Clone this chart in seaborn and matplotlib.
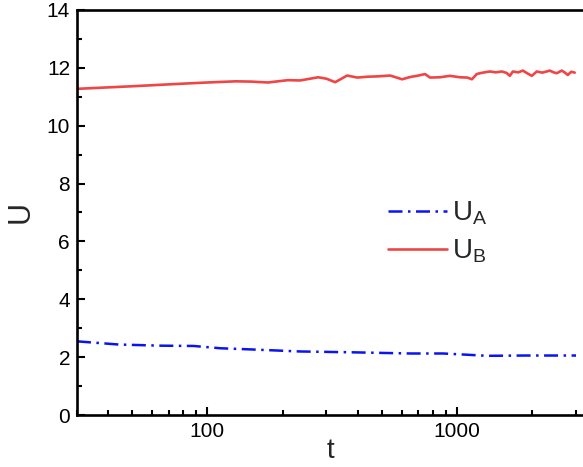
import numpy as np
import pandas as pd
import seaborn as sns
import matplotlib
matplotlib.use("Agg")
from matplotlib import pyplot as plt
from matplotlib.ticker import LogLocator, MultipleLocator, NullFormatter, FixedLocator, FixedFormatter

# data
t_a = [30, 44, 65, 88, 113, 150, 235, 385, 650, 880, 1030, 1320, 1900, 3000]
u_a = [2.55, 2.44, 2.40, 2.39, 2.31, 2.27, 2.20, 2.17, 2.13, 2.13, 2.10, 2.05, 2.06, 2.06]

t_b = [30, 50, 80, 100, 130, 150, 175, 210, 235, 278, 300, 325, 363, 398, 440,
       479, 540, 603, 650, 692, 745, 780, 855, 937, 1028, 1100, 1148, 1200, 1236,
       1290, 1355, 1430, 1514, 1580, 1629, 1675, 1760, 1837, 1920, 1995, 2089,
       2200, 2355, 2440, 2512, 2630, 2700, 2780, 2870, 2965]
u_b = [11.27, 11.36, 11.45, 11.49, 11.53, 11.52, 11.49, 11.57, 11.56, 11.67, 11.62,
       11.50, 11.73, 11.66, 11.69, 11.70, 11.73, 11.60, 11.68, 11.72, 11.78, 11.66,
       11.67, 11.72, 11.67, 11.66, 11.60, 11.78, 11.81, 11.84, 11.87, 11.84, 11.87,
       11.82, 11.72, 11.87, 11.84, 11.90, 11.80, 11.72, 11.87, 11.83, 11.90, 11.84,
       11.81, 11.90, 11.84, 11.75, 11.86, 11.83]

sns.set_theme(style="ticks")
plt.rcParams["font.family"] = ["Liberation Sans", "DejaVu Sans"]
plt.rcParams["mathtext.default"] = "regular"

fig = plt.figure(figsize=(5.83, 4.67), dpi=100)
ax = fig.add_axes([0.132, 0.111, 0.868, 0.868])

df_a = pd.DataFrame({"t": t_a, "U": u_a})
df_b = pd.DataFrame({"t": t_b, "U": u_b})

sns.lineplot(data=df_a, x="t", y="U", ax=ax, color="#0a14f0", lw=1.8,
             linestyle=(0, (5.6, 2.2, 1.0, 2.2)), label="$U_A$")
sns.lineplot(data=df_b, x="t", y="U", ax=ax, color="#f04545", lw=1.9,
             label="$U_B$")

ax.set_xscale("log")
ax.set_xlim(30, 3200)
ax.set_ylim(0, 14)

ax.xaxis.set_major_locator(FixedLocator([100, 1000]))
ax.xaxis.set_major_formatter(FixedFormatter(["100", "1000"]))
ax.xaxis.set_minor_locator(LogLocator(base=10, subs=np.arange(2, 10)))
ax.xaxis.set_minor_formatter(NullFormatter())
ax.yaxis.set_major_locator(MultipleLocator(2))
ax.yaxis.set_minor_locator(MultipleLocator(1))

ax.tick_params(which="both", direction="in", width=1.5, labelsize=15, colors="black",
               top=False, right=False)
ax.tick_params(which="major", length=6, pad=5)
ax.tick_params(which="minor", length=3.5)

for side in ["left", "bottom", "top"]:
    ax.spines[side].set_linewidth(1.9)
    ax.spines[side].set_color("black")
ax.spines["right"].set_visible(False)

ax.set_xlabel("t", fontsize=20, labelpad=-2)
ax.set_ylabel("U", fontsize=22, labelpad=8)

ax.legend(loc="upper left", bbox_to_anchor=(0.566, 0.594), frameon=False,
          fontsize=20, handlelength=2.1, handletextpad=0.2, labelspacing=0.4)

fig.savefig("out.png", dpi=100)
plt.close(fig)
